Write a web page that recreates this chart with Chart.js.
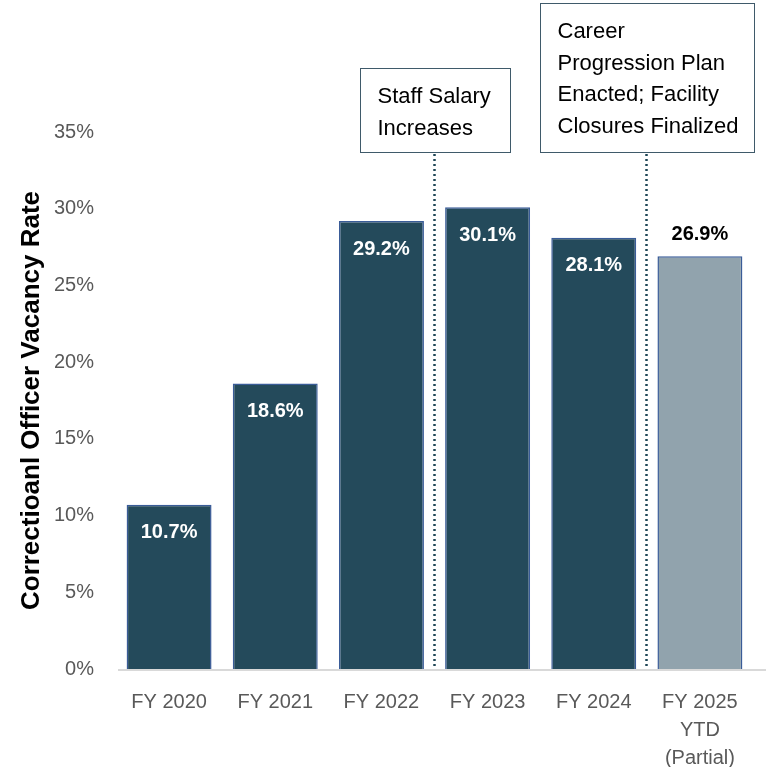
<!DOCTYPE html>
<html>
<head>
<meta charset="utf-8">
<script src="https://cdn.jsdelivr.net/npm/chart.js@4"></script>
<style>
  html, body { margin: 0; padding: 0; background: #fff; }
  #wrap { width: 766px; height: 767px; }
</style>
</head>
<body>
<div id="wrap"><canvas id="grafico" width="766" height="767"></canvas></div>
<script>
const FUENTE = '"Liberation Sans", Arial, sans-serif';

// Datos
const anios = [['FY 2020'], ['FY 2021'], ['FY 2022'], ['FY 2023'], ['FY 2024'], ['FY 2025', 'YTD', '(Partial)']];
const tasaVacantes = [10.7, 18.6, 29.2, 30.1, 28.1, 26.9];
const esParcial = [false, false, false, false, false, true];
const ticksY = [0, 5, 10, 15, 20, 25, 30, 35];

// Notas sobre las lineas punteadas (entre que categorias caen)
const notas = [
    { entre: [2, 3], lineas: ['Staff Salary', 'Increases'], arriba: 68, ancho: 150, alto: 84 },
    { entre: [4, 5], lineas: ['Career', 'Progression Plan', 'Enacted; Facility', 'Closures Finalized'], arriba: 3, ancho: 214, alto: 149 }
];

const colorBarra = '#244a5b';
const colorParcial = '#91a3ad';
const colorBorde = '#3a5c98';

// Etiquetas de valor sobre/dentro de cada barra
const etiquetasBarras = {
    id: 'etiquetasBarras',
    afterDatasetsDraw(chart) {
        const ctx = chart.ctx;
        const meta = chart.getDatasetMeta(0);
        ctx.save();
        ctx.font = `bold 20px ${FUENTE}`;
        ctx.textAlign = 'center';
        ctx.textBaseline = 'middle';
        meta.data.forEach((bar, i) => {
            const texto = tasaVacantes[i].toFixed(1) + '%';
            if (esParcial[i]) {
                ctx.fillStyle = '#000';
                ctx.fillText(texto, bar.x, bar.y - 22);
            } else {
                ctx.fillStyle = '#fff';
                ctx.fillText(texto, bar.x, bar.y + 28);
            }
        });
        ctx.restore();
    }
};

// Linea base, lineas punteadas y recuadros de notas
const notasPlugin = {
    id: 'notasPlugin',
    afterDraw(chart) {
        const ctx = chart.ctx;
        const x = chart.scales.x;
        const area = chart.chartArea;
        ctx.save();

        ctx.strokeStyle = '#d9d9d9';
        ctx.lineWidth = 2;
        ctx.beginPath();
        ctx.moveTo(area.left + 2, area.bottom + 1);
        ctx.lineTo(chart.width, area.bottom + 1);
        ctx.stroke();

        notas.forEach(n => {
            const cx = Math.round((x.getPixelForValue(n.entre[0]) + x.getPixelForValue(n.entre[1])) / 2) - 0.5;
            const abajo = n.arriba + n.alto;

            ctx.strokeStyle = '#1f4656';
            ctx.lineWidth = 2.5;
            ctx.setLineDash([2, 3]);
            ctx.beginPath();
            ctx.moveTo(cx, abajo + 2);
            ctx.lineTo(cx, area.bottom);
            ctx.stroke();
            ctx.setLineDash([]);

            ctx.fillStyle = '#fff';
            ctx.strokeStyle = '#3f5a6a';
            ctx.lineWidth = 1;
            const izq = Math.round(cx - n.ancho / 2) + 0.5;
            ctx.fillRect(izq, n.arriba + 0.5, n.ancho, n.alto);
            ctx.strokeRect(izq, n.arriba + 0.5, n.ancho, n.alto);

            ctx.fillStyle = '#000';
            ctx.font = `22px ${FUENTE}`;
            ctx.textAlign = 'left';
            ctx.textBaseline = 'middle';
            n.lineas.forEach((l, k) => {
                ctx.fillText(l, izq + 17, n.arriba + 29 + k * 31.5);
            });
        });
        ctx.restore();
    }
};

new Chart(document.getElementById('grafico'), {
    type: 'bar',
    data: {
        labels: anios,
        datasets: [{
            data: tasaVacantes,
            backgroundColor: esParcial.map(p => p ? colorParcial : colorBarra),
            borderColor: colorBorde,
            borderWidth: 1.5,
            barPercentage: 0.8,
            categoryPercentage: 1
        }]
    },
    options: {
        responsive: false,
        animation: false,
        layout: { padding: { top: 132, right: 13, left: 0, bottom: 0 } },
        plugins: {
            legend: { display: false },
            tooltip: { enabled: false }
        },
        scales: {
            x: {
                grid: { display: false, drawTicks: false },
                border: { display: false },
                ticks: {
                    color: '#595959',
                    font: { family: FUENTE, size: 20, lineHeight: 1.38 },
                    padding: 20,
                    maxRotation: 0,
                    autoSkip: false
                },
                afterFit: s => { s.height = 98; }
            },
            y: {
                min: 0,
                max: 35,
                afterBuildTicks: s => { s.ticks = ticksY.map(v => ({ value: v })); },
                grid: { display: false, drawTicks: false },
                border: { display: false },
                ticks: {
                    color: '#595959',
                    font: { family: FUENTE, size: 20 },
                    padding: 22,
                    callback: v => v + '%'
                },
                title: {
                    display: true,
                    text: 'Correctioanl Officer Vacancy Rate',
                    color: '#000',
                    font: { family: FUENTE, size: 26, weight: 'bold' },
                    padding: { top: 16, bottom: 0 }
                },
                afterFit: s => { s.width = 116; }
            }
        }
    },
    plugins: [etiquetasBarras, notasPlugin]
});
</script>
</body>
</html>
